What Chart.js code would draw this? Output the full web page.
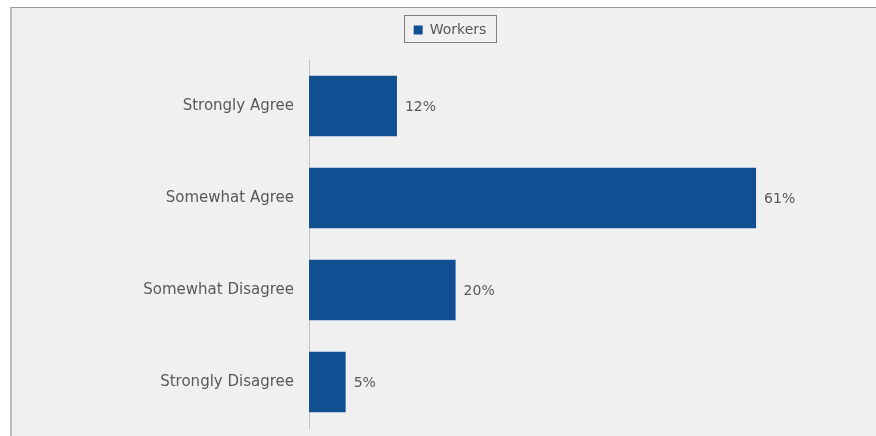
<!DOCTYPE html>
<html>
<head>
<meta charset="utf-8">
<script src="https://cdn.jsdelivr.net/npm/chart.js@4.4.0/dist/chart.umd.min.js"></script>
<style>
  html, body { margin: 0; padding: 0; background: #ffffff; overflow: hidden; }
  #panel {
    position: absolute; left: 10px; top: 7px; width: 880px; height: 440px;
    background: #f0f0f0; border-top: 1px solid #9a9a9a; border-left: 2px solid #bdbdbd;
  }
  #chart { position: absolute; left: 12px; top: 9px; }
</style>
</head>
<body>
<div id="panel"></div>
<canvas id="chart" width="876" height="427"></canvas>
<script>
// datos
const categorias = ["Strongly Agree", "Somewhat Agree", "Somewhat Disagree", "Strongly Disagree"];
const workers = [12, 61, 20, 5];
const serieNombre = "Workers";

const GRIS = "#595959";
const AZUL = "#114f93";

// etiquetas de valor al final de cada barra
const etiquetasPlugin = {
    id: "etiquetas",
    afterDatasetsDraw(chart) {
        const ctx = chart.ctx;
        const meta = chart.getDatasetMeta(0);
        ctx.save();
        ctx.fillStyle = GRIS;
        ctx.font = "14px 'DejaVu Sans'";
        ctx.textBaseline = "middle";
        ctx.textAlign = "left";
        meta.data.forEach((bar, i) => {
            ctx.fillText(workers[i] + "%", bar.x + 8, bar.y + 1);
        });
        ctx.restore();
    }
};

// recuadro alrededor de la leyenda
const cajaLeyenda = {
    id: "cajaLeyenda",
    afterDraw(chart) {
        const hb = chart.legend.legendHitBoxes[0];
        if (!hb) return;
        const ctx = chart.ctx;
        ctx.save();
        ctx.strokeStyle = "#7f7f7f";
        ctx.lineWidth = 1;
        ctx.strokeRect(Math.round(hb.left - 10) + 0.5, Math.round(hb.top - 8) + 0.5,
                       Math.round(hb.width + 19), 27);
        ctx.restore();
    }
};

new Chart(document.getElementById("chart"), {
    type: "bar",
    data: {
        labels: categorias,
        datasets: [{
            label: serieNombre,
            data: workers,
            backgroundColor: AZUL,
            borderWidth: 0,
            categoryPercentage: 0.66,
            barPercentage: 1.0
        }]
    },
    options: {
        indexAxis: "y",
        responsive: false,
        animation: false,
        layout: { padding: { top: 2, left: 0, right: 0, bottom: 8 } },
        plugins: {
            legend: {
                display: true,
                position: "top",
                labels: {
                    color: GRIS,
                    font: { family: "'DejaVu Sans'", size: 14 },
                    boxWidth: 9,
                    boxHeight: 9,
                    padding: 12
                }
            },
            tooltip: { enabled: false }
        },
        scales: {
            x: {
                min: 0,
                max: 79,
                display: false
            },
            xTop: {
                type: "linear",
                axis: "x",
                position: "top",
                display: true,
                ticks: { display: false },
                grid: { display: false },
                border: { display: false },
                afterFit(s) { s.height = 13; }
            },
            y: {
                grid: { display: false },
                border: { display: true, color: "#bfbfbf", width: 1 },
                ticks: {
                    color: GRIS,
                    font: { family: "'DejaVu Sans'", size: 15 },
                    padding: 7
                },
                afterFit(s) {
                    s.width = 297;
                    s.paddingTop = 0;
                    s.paddingBottom = 0;
                }
            }
        }
    },
    plugins: [etiquetasPlugin, cajaLeyenda]
});
</script>
</body>
</html>
